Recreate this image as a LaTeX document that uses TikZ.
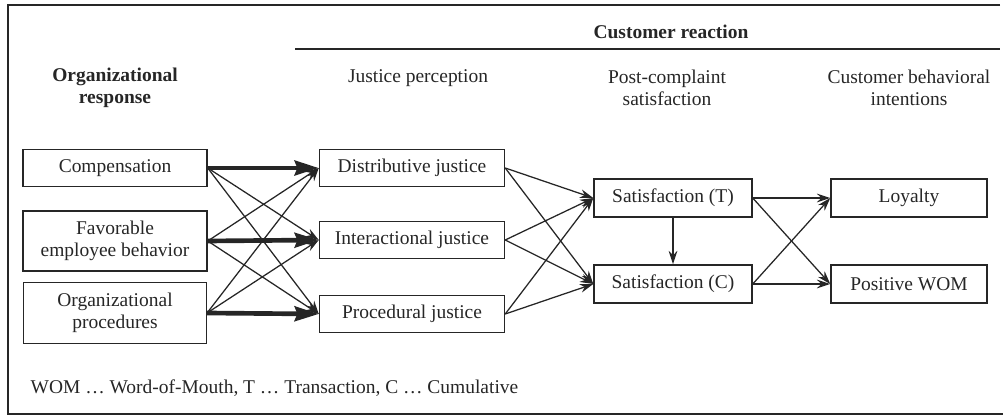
\documentclass[tikz,border=0pt]{standalone}
\usepackage{fontspec}
\setmainfont{Liberation Serif}
\usetikzlibrary{arrows.meta,positioning}

\tikzset{
  box/.style={draw, line width=1.1pt, inner sep=0pt, align=center, minimum height=27.5pt},
  head/.style={align=center},
  thinarrow/.style={-{Stealth[length=10pt,width=6.5pt]}, line width=0.95pt},
  heavyarrow/.style={-{Stealth[length=18pt,width=11pt,inset=2pt]}, line width=3.5pt},
}

\begin{document}
\begin{tikzpicture}[x=0.75pt,y=-0.75pt,on grid,font=\fontsize{14.6}{16.5}\selectfont,color=black!85]
	\useasboundingbox (0,0) rectangle (1003,416);
	\draw[line width=1.2pt] (1000,5) -- (8,5) -- (8,414) -- (1003,414);

	% headings
	\node[head, font=\fontsize{14.6}{16.5}\selectfont\bfseries] (custhead) at (671,32) {Customer reaction};
	\coordinate (rulestart) at (295,49);
	\coordinate (ruleend) at (1000,49);
	\draw[line width=0.9pt] (rulestart) -- (ruleend);
	\node[head, font=\fontsize{14.6}{16.5}\selectfont\bfseries] (orghead) at (115,88) {Organizational\\response};
	\node[head] (justhead) at (418,78) {Justice perception};
	\node[head] (posthead) at (667,88) {Post-complaint\\satisfaction};
	\node[head] (intenthead) at (909,88) {Customer behavioral\\intentions};

	% organizational response
	\node[box, minimum width=138pt] (comp) at (115,168) {Compensation};
	\node[box, minimum width=138pt, minimum height=45pt] (fav) [below=54.75pt of comp] {Favorable\\employee behavior};
	\node[box, minimum width=137pt, minimum height=45.75pt] (orgp) [below=54pt of fav] {Organizational\\procedures};

	% justice perception
	\node[box, minimum width=138.75pt] (dist) [right=222.75pt of comp] {Distributive justice};
	\node[box, minimum width=138.75pt] (inter) [below=54pt of dist] {Interactional justice};
	\node[box, minimum width=138.75pt] (proc) [below=55.5pt of inter] {Procedural justice};

	% satisfaction
	\node[box, minimum width=118.5pt, minimum height=28.5pt] (satt) [below right=22.5pt and 195.75pt of dist] {Satisfaction (T)};
	\node[box, minimum width=118.5pt, minimum height=28.5pt] (satc) [below=64.5pt of satt] {Satisfaction (C)};

	% intentions
	\node[box, minimum width=117pt, minimum height=28.5pt] (loy) [right=177pt of satt] {Loyalty};
	\node[box, minimum width=117pt, minimum height=28.5pt] (wom) [right=177pt of satc] {Positive WOM};

	\node[anchor=west] (note) at (26,388) {WOM \dots\ Word-of-Mouth, T \dots\ Transaction, C \dots\ Cumulative};

	\path[thinarrow]
		(comp.east) edge (inter.west)
		            edge (proc.west)
		(fav.east) edge (dist.west)
		           edge (proc.west)
		(orgp.east) edge (dist.west)
		            edge (inter.west)

		(dist.east) edge (satt.west)
		            edge (satc.west)
		(inter.east) edge (satt.west)
		             edge (satc.west)
		(proc.east) edge (satt.west)
		            edge (satc.west)

		(satt) edge (satc)
		(satt.east) edge (loy.west)
		            edge (wom.west)
		(satc.east) edge (loy.west)
		            edge (wom.west);

	\path[heavyarrow]
		(comp.east) edge (dist.west)
		(fav.east) edge (inter.west)
		(orgp.east) edge (proc.west);

\end{tikzpicture}
\end{document}
